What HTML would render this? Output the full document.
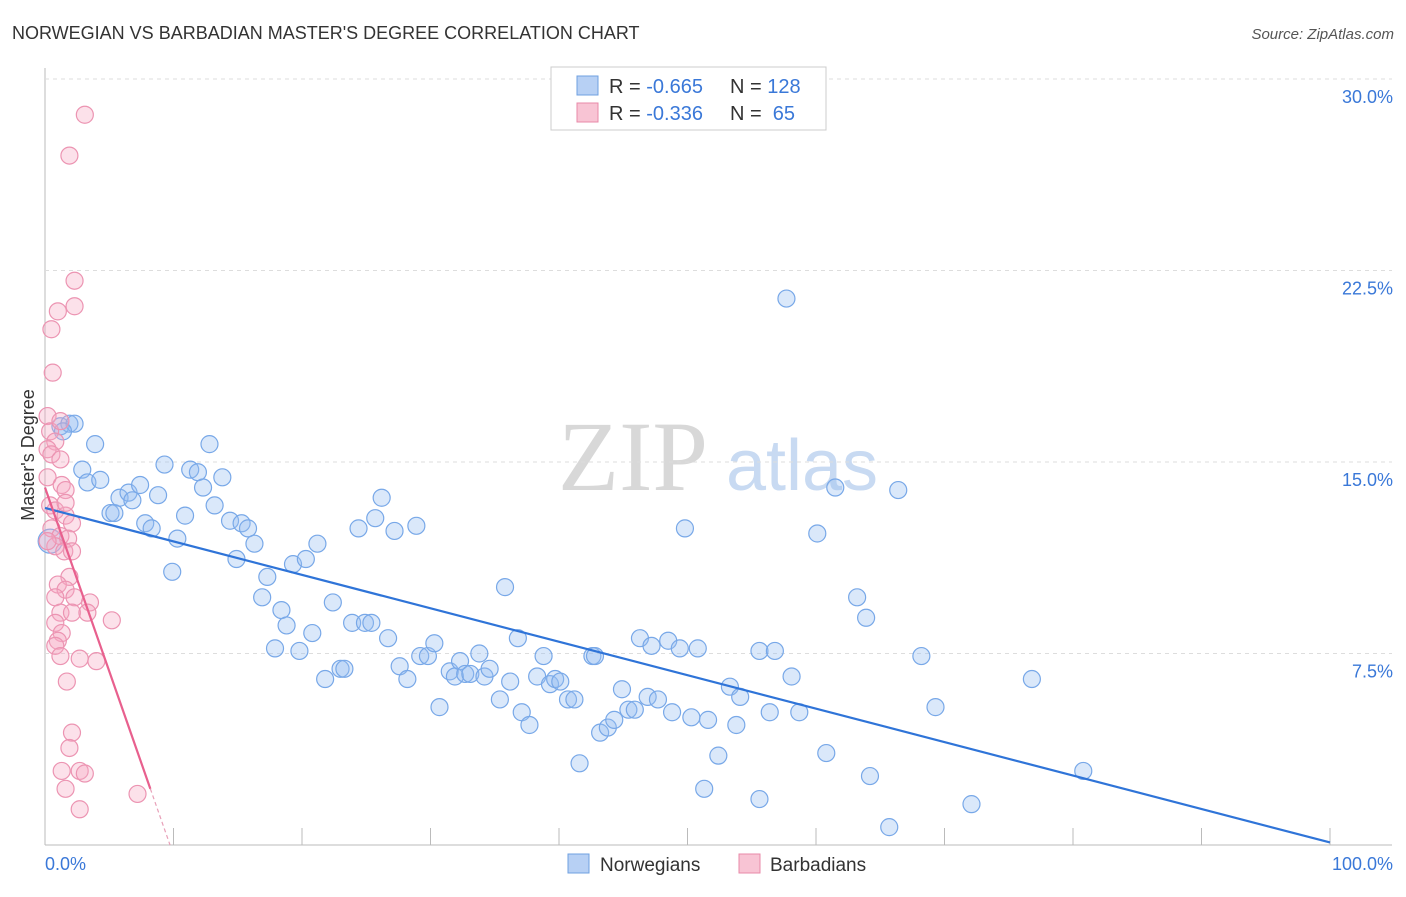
<!DOCTYPE html>
<html><head><meta charset="utf-8"><style>
body{margin:0;background:#fff;font-family:"Liberation Sans",sans-serif;}
svg text{font-family:"Liberation Sans",sans-serif;}
</style></head><body>
<svg id="chart" width="1406" height="892" xmlns="http://www.w3.org/2000/svg">
<text x="12" y="39" font-size="18" fill="#333">NORWEGIAN VS BARBADIAN MASTER'S DEGREE CORRELATION CHART</text>
<text x="1394" y="39" font-size="15" fill="#555" font-style="italic" text-anchor="end">Source: ZipAtlas.com</text>
<text x="633" y="490" font-size="100" fill="#d8d8d8" style="font-family:'Liberation Serif',serif" text-anchor="middle">ZIP</text>
<text x="802" y="490" font-size="72" fill="#c8daf2" text-anchor="middle">atlas</text>
<text transform="translate(34,455) rotate(-90)" font-size="18" fill="#333" text-anchor="middle">Master's Degree</text>
<g id="grid"></g><g id="pts"></g><g id="lines"></g>
<g>
<rect x="551" y="67" width="275" height="63" fill="#fff" stroke="#ccc"/>
<rect x="577" y="76" width="21" height="19" fill="#b7d0f4" stroke="#6fa0e0"/>
<rect x="577" y="103" width="21" height="19" fill="#f8c4d4" stroke="#e88aa8"/>
<text x="609" y="93" font-size="20" fill="#333">R = <tspan fill="#3a78d8">-0.665</tspan></text>
<text x="730" y="93" font-size="20" fill="#333">N = <tspan fill="#3a78d8">128</tspan></text>
<text x="609" y="120" font-size="20" fill="#333">R = <tspan fill="#3a78d8">-0.336</tspan></text>
<text x="730" y="120" font-size="20" fill="#333">N = <tspan fill="#3a78d8">&#160;65</tspan></text>
</g>
<g>
<rect x="568" y="854" width="21" height="19" fill="#b7d0f4" stroke="#6fa0e0"/>
<text x="600" y="871" font-size="19" fill="#333">Norwegians</text>
<rect x="739" y="854" width="21" height="19" fill="#f8c4d4" stroke="#e88aa8"/>
<text x="770" y="871" font-size="19" fill="#333">Barbadians</text>
</g>
</svg>
<script>
const yTicks=[7.5,15,22.5,30];
const yTickLabels=["7.5%","15.0%","22.5%","30.0%"];
const xTickLabels=["0.0%","100.0%"];
const blueX=[0.4,1.2,1.9,2.3,1.4,3.9,2.9,3.3,4.3,5.1,5.4,5.8,6.5,6.8,7.4,7.8,8.3,8.8,9.3,9.9,10.3,10.9,11.3,11.9,12.3,12.8,13.2,13.8,14.4,14.9,15.3,15.8,16.3,16.9,17.3,17.9,18.4,18.8,19.3,19.8,20.3,20.8,21.2,21.8,22.4,23.0,23.3,23.9,24.4,24.9,25.4,25.7,26.2,26.7,27.2,27.6,28.2,28.9,29.2,29.8,30.3,30.7,31.5,31.9,32.3,32.7,33.1,33.8,34.2,34.6,35.4,35.8,36.2,36.8,37.1,37.7,38.3,38.8,39.3,39.7,40.1,40.7,41.2,41.6,42.6,42.8,43.2,43.8,44.3,44.9,45.4,45.9,46.3,46.9,47.2,47.7,48.5,48.8,49.4,49.8,50.3,50.8,51.3,51.6,53.8,52.4,53.3,54.1,55.6,55.6,56.4,56.8,57.7,58.1,58.7,60.1,60.8,61.5,63.2,63.9,64.2,65.7,66.4,68.2,69.3,72.1,76.8,80.8];
const blueY=[11.9,16.4,16.5,16.5,16.2,15.7,14.7,14.2,14.3,13.0,13.0,13.6,13.8,13.5,14.1,12.6,12.4,13.7,14.9,10.7,12.0,12.9,14.7,14.6,14.0,15.7,13.3,14.4,12.7,11.2,12.6,12.4,11.8,9.7,10.5,7.7,9.2,8.6,11.0,7.6,11.2,8.3,11.8,6.5,9.5,6.9,6.9,8.7,12.4,8.7,8.7,12.8,13.6,8.1,12.3,7.0,6.5,12.5,7.4,7.4,7.9,5.4,6.8,6.6,7.2,6.7,6.7,7.5,6.6,6.9,5.7,10.1,6.4,8.1,5.2,4.7,6.6,7.4,6.3,6.5,6.4,5.7,5.7,3.2,7.4,7.4,4.4,4.6,4.9,6.1,5.3,5.3,8.1,5.8,7.8,5.7,8.0,5.2,7.7,12.4,5.0,7.7,2.2,4.9,4.7,3.5,6.2,5.8,7.6,1.8,5.2,7.6,21.4,6.6,5.2,12.2,3.6,14.0,9.7,8.9,2.7,0.7,13.9,7.4,5.4,1.6,6.5,2.9];
const pinkX=[3.1,1.9,2.3,2.3,1.0,0.5,0.6,0.2,0.4,0.8,0.2,0.5,1.2,0.2,1.3,1.6,0.4,0.8,1.6,2.1,0.5,1.2,1.8,0.8,1.5,2.1,1.9,1.0,1.6,0.8,2.3,3.5,1.2,2.1,3.3,0.8,5.2,1.3,1.0,0.8,2.7,4.0,1.2,1.7,2.1,1.9,1.3,2.7,3.1,1.6,2.7,7.2,0.2,1.6,1.2];
const pinkY=[28.6,27.0,22.1,21.1,20.9,20.2,18.5,16.8,16.2,15.8,15.5,15.3,15.1,14.4,14.1,13.9,13.3,13.1,12.9,12.6,12.4,12.1,12.0,11.7,11.5,11.5,10.5,10.2,10.0,9.7,9.7,9.5,9.1,9.1,9.1,8.7,8.8,8.3,8.0,7.8,7.3,7.2,7.4,6.4,4.4,3.8,2.9,2.9,2.8,2.2,1.4,2.0,11.9,13.4,16.6];
const blueTrend=[13.2,0.1];
const pinkTrend=[14.0,2.2,8.2];
const NS="http://www.w3.org/2000/svg";
const X0=45,X1=1330,Y0=845,Ytop=79;
function sx(v){return X0+(X1-X0)*v/100;}
function sy(v){return Y0-(Y0-Ytop)*v/30;}
function mk(tag,attrs,parent){const e=document.createElementNS(NS,tag);for(const k in attrs)e.setAttribute(k,attrs[k]);parent.appendChild(e);return e;}
const grid=document.getElementById('grid'),pts=document.getElementById('pts'),lines=document.getElementById('lines');
let ax=mk('line',{x1:X0,y1:68,x2:X0,y2:Y0,stroke:'#bbb'},grid);


let bx=mk('line',{x1:X0,y1:Y0,x2:1392,y2:Y0,stroke:'#bbb'},grid);


yTicks.forEach((t,i)=>{
 let g=mk('line',{x1:X0,y1:sy(t),x2:1392,y2:sy(t),stroke:'#ddd','stroke-dasharray':'4,4'},grid);
 
 
 let tx=mk('text',{x:1393,y:sy(t)+24,'font-size':18,fill:'#3a78d8','text-anchor':'end'},grid);
 tx.textContent=yTickLabels[i];
 
 
});
for(let i=1;i<=10;i++){
 let t=mk('line',{x1:sx(i*10),y1:828,x2:sx(i*10),y2:Y0,stroke:'#bbb'},grid);
 
 
}
let xl0=mk('text',{x:45,y:870,'font-size':18,fill:'#3a78d8'},grid);xl0.textContent=xTickLabels[0];


let xl1=mk('text',{x:1393,y:870,'font-size':18,fill:'#3a78d8','text-anchor':'end'},grid);xl1.textContent=xTickLabels[1];


blueX.forEach((v,i)=>{
 let c=mk('circle',{cx:sx(v),cy:sy(blueY[i]),r:i==0?12:8.5,fill:'rgba(150,190,240,0.35)',stroke:'#78a8e8','stroke-width':1.2},pts);
 
 
});
pinkX.forEach((v,i)=>{
 let c=mk('circle',{cx:sx(v),cy:sy(pinkY[i]),r:8.5,fill:'rgba(245,170,195,0.35)',stroke:'#ec94b2','stroke-width':1.2},pts);
 
 
});
let bl=mk('line',{x1:sx(0),y1:sy(blueTrend[0]),x2:sx(100),y2:sy(blueTrend[1]),stroke:'#2f74d8','stroke-width':2.2},lines);


const ps=(pinkTrend[1]-pinkTrend[0])/pinkTrend[2];
let pl=mk('line',{x1:sx(0),y1:sy(pinkTrend[0]),x2:sx(pinkTrend[2]),y2:sy(pinkTrend[1]),stroke:'#e8608e','stroke-width':2.2},lines);


const xz=-pinkTrend[0]/ps;
let pd=mk('line',{x1:sx(pinkTrend[2]),y1:sy(pinkTrend[1]),x2:sx(xz),y2:sy(0),stroke:'#e8a0b8','stroke-width':1.2,'stroke-dasharray':'4,3'},lines);


</script>
</body></html>
